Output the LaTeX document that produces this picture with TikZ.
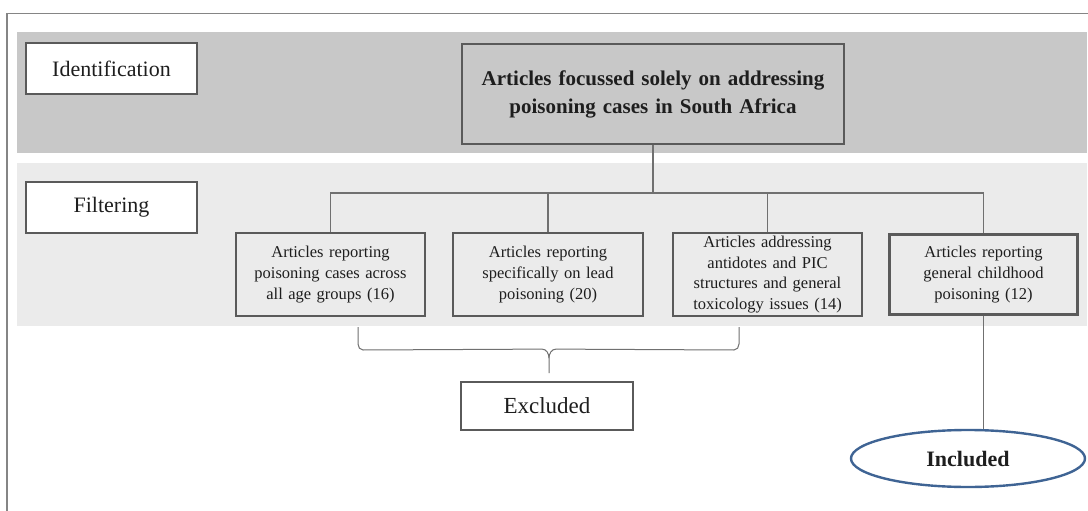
\documentclass[tikz,border=0pt]{standalone}
\usepackage{fontspec}
\setmainfont{Liberation Serif}
\usetikzlibrary{shapes.geometric,calc}
\definecolor{bandD}{HTML}{C8C8C8}
\definecolor{bandL}{HTML}{EBEBEB}
\definecolor{lineG}{HTML}{707070}
\definecolor{boxG}{HTML}{5A5A5A}
\definecolor{ellB}{HTML}{3F6494}
\definecolor{txt}{HTML}{1E1E1E}
\tikzset{
  x=1pt,y=-1pt,
  lab/.style={draw=boxG,line width=2pt,fill=white,minimum width=171pt,minimum height=51pt,inner sep=0pt,text=txt,font=\fontsize{22}{26}\selectfont},
  child/.style={draw=boxG,line width=1.1pt,fill=bandL,minimum width=189pt,minimum height=83pt,inner sep=0pt,text width=185pt,align=center,text=txt,font=\fontsize{16.5}{20.7}\selectfont},
  conn/.style={draw=lineG,line width=1.2pt},
}
\begin{document}
\begin{tikzpicture}
\useasboundingbox (0,0) rectangle (1088,511);
\fill[white] (0,0) rectangle (1088,511);
% bands
\fill[bandD] (16.5,32.5) rectangle (1087,152.5);
\fill[bandL] (16.5,163) rectangle (1087,326);
% outer frame
\draw[draw=lineG!85,line width=1.6pt] (7,511) -- (7,13.5) -- (1088,13.5);
% labels
\node[lab] (id) at (111.5,68.5) {Identification};
\node[lab] (filt) at (111.5,207.5) {Filtering};
% main
\node[draw=boxG,line width=1.1pt,fill=bandD,minimum width=382pt,minimum height=100pt,inner sep=0pt,text width=378pt,align=center,text=txt,font=\fontsize{21}{28}\selectfont\bfseries] (main) at (653,94) {Articles focussed solely on addressing\\poisoning cases in South Africa};
% children
\node[child] (b1) at (330.5,274.5) {Articles reporting\\poisoning cases across\\all age groups (16)};
\node[child,minimum width=190pt] (b2) at (548,274.5) {Articles reporting\\specifically on lead\\poisoning (20)};
\node[child] (b3) at (767.5,274.5) {Articles addressing\\antidotes and PIC\\structures and general\\toxicology issues (14)};
\node[child,line width=3pt,minimum width=188pt,minimum height=80pt] (b4) at (983.5,274.5) {Articles reporting\\general childhood\\poisoning (12)};
% tree connectors
\coordinate (hj) at (653,193);
\draw[conn] (main.south) -- (hj);
\draw[conn] (b1.north) -- (b1.north |- hj) -- (b4.north |- hj) -- (b4.north);
\draw[conn] (b2.north) -- (b2.north |- hj);
\draw[conn] (b3.north) -- (b3.north |- hj);
% excluded
\node[draw=boxG,line width=1.8pt,fill=white,minimum width=172pt,minimum height=48pt,inner sep=0pt,text=txt,font=\fontsize{23}{27}\selectfont] (ex) at (547,406) {Excluded};
\coordinate (bl) at (358,327);
\coordinate (br) at (739,327);
\coordinate (tip) at ($(ex.north)+(2,-8)$);
\draw[conn,line width=1pt] (bl) -- ++(0,17) to[out=-90,in=180] ++(5,6) -- ($(tip)+(-7,-24)$) to[out=0,in=90] ($(tip)+(0,-15)$) -- (tip);
\draw[conn,line width=1pt] (br) -- ++(0,17) to[out=-90,in=0] ++(-5,6) -- ($(tip)+(7,-24)$) to[out=180,in=90] ($(tip)+(0,-15)$);
% included
\node[ellipse,draw=ellB,line width=2.4pt,fill=white,minimum width=234pt,minimum height=57pt,inner sep=0pt,text=txt,font=\fontsize{22}{26}\selectfont\bfseries] (inc) at (968,458.5) {Included};
\draw[conn] (b4.south) -- (b4.south |- inc.north);
\end{tikzpicture}
\end{document}
